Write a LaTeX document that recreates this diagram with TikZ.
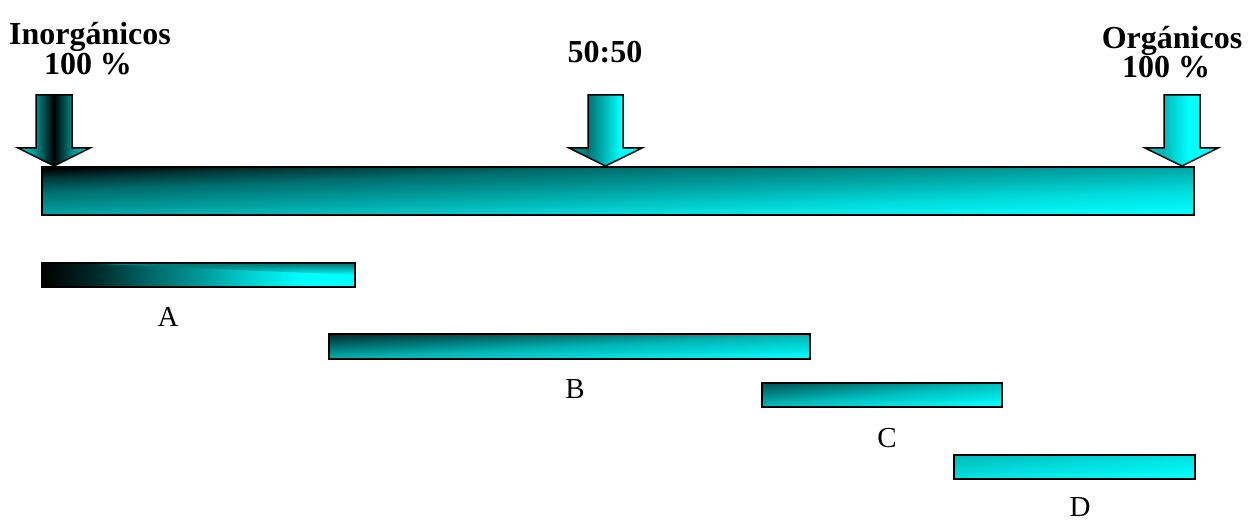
\documentclass[tikz,border=0pt]{standalone}
\usepackage{fontspec}
\usetikzlibrary{fadings}
\setmainfont{Liberation Serif}
\definecolor{cy}{RGB}{0,255,255}
\definecolor{mA1}{RGB}{0,40,40}
\definecolor{mA2}{RGB}{0,100,100}
\definecolor{mA3}{RGB}{0,150,150}
\definecolor{mA4}{RGB}{0,210,210}
\definecolor{bandA}{RGB}{0,125,125}
\definecolor{mM1}{RGB}{0,55,55}
\definecolor{mM2}{RGB}{0,110,110}
\definecolor{mM3}{RGB}{0,165,165}
\definecolor{mM4}{RGB}{0,220,220}
\definecolor{bS}{RGB}{0,50,50}
\definecolor{bM}{RGB}{0,180,180}
\definecolor{cS}{RGB}{0,90,90}
\definecolor{cM}{RGB}{0,190,190}
\definecolor{dS}{RGB}{0,190,190}
\definecolor{dM}{RGB}{0,225,225}
\definecolor{a1e}{RGB}{0,225,225}
\definecolor{a1m}{RGB}{0,140,140}
\definecolor{a2e}{RGB}{0,150,150}
\definecolor{a2m}{RGB}{0,115,115}
\definecolor{a2n}{RGB}{0,200,200}
\definecolor{a3e}{RGB}{0,200,200}
\definecolor{a3m}{RGB}{0,185,185}
% diagonal bar shadings: 25bp = top-left corner, 50bp = other corners' line, 75bp = bottom-right corner
\pgfdeclarehorizontalshading{shMain}{100bp}{color(0bp)=(black); color(25bp)=(black); color(30bp)=(mM1); color(37.5bp)=(mM2); color(50bp)=(mM3); color(62.5bp)=(mM4); color(75bp)=(cy); color(100bp)=(cy)}
\pgfdeclarehorizontalshading{shA}{100bp}{color(0bp)=(black); color(25bp)=(black); color(33.3bp)=(mA1); color(41.7bp)=(mA2); color(50bp)=(mA3); color(58.3bp)=(mA4); color(66.7bp)=(cy); color(100bp)=(cy)}
\pgfdeclarehorizontalshading{shB}{100bp}{color(0bp)=(bS); color(25bp)=(bS); color(50bp)=(bM); color(75bp)=(cy); color(100bp)=(cy)}
\pgfdeclarehorizontalshading{shC}{100bp}{color(0bp)=(cS); color(25bp)=(cS); color(50bp)=(cM); color(75bp)=(cy); color(100bp)=(cy)}
\pgfdeclarehorizontalshading{shD}{100bp}{color(0bp)=(dS); color(25bp)=(dS); color(50bp)=(dM); color(75bp)=(cy); color(100bp)=(cy)}
\pgfdeclarehorizontalshading{arrOne}{100bp}{color(0bp)=(cy); color(25bp)=(a1e); color(37.5bp)=(a1m); color(50bp)=(black); color(62.5bp)=(a1m); color(75bp)=(a1e); color(100bp)=(cy)}
\pgfdeclarehorizontalshading{arrTwo}{100bp}{color(0bp)=(a2e); color(25bp)=(a2e); color(38bp)=(a2m); color(52bp)=(a2n); color(60bp)=(cy); color(100bp)=(cy)}
\pgfdeclarehorizontalshading{arrThree}{100bp}{color(0bp)=(a3e); color(25bp)=(a3e); color(38bp)=(a3m); color(55bp)=(cy); color(100bp)=(cy)}
\tikzfading[name=topfade, top color=transparent!0, bottom color=transparent!100]
\begin{document}
\begin{tikzpicture}[x=1pt,y=-1pt,
  barbox/.style={rectangle, draw=black, line width=1.5pt, shade, inner sep=0pt},
  arrowbox/.style={draw=black, line width=1.5pt, line join=miter, shade},
  titletext/.style={font=\fontsize{32}{36}\selectfont\bfseries, anchor=base, inner sep=0pt},
  barlabel/.style={font=\fontsize{29}{34}\selectfont, anchor=base, inner sep=0pt}]
\useasboundingbox (0,0) rectangle (1254,521);
% main bar
\node[barbox, shading=shMain, shading angle=-87.61, minimum width=1152pt, minimum height=48pt] (main) at (618,191) {};
% arrows
\path[arrowbox, shading=arrOne] (36,95) -- (72,95) -- (72,148) -- (90,148) -- (54,166) -- (18,148) -- (36,148) -- cycle;
\path[arrowbox, shading=arrTwo] (588,95) -- (623,95) -- (623,148) -- (642,148) -- (605.5,166) -- (569,148) -- (588,148) -- cycle;
\path[arrowbox, shading=arrThree] (1164,95) -- (1200,95) -- (1200,148) -- (1218,148) -- (1182,166) -- (1145,148) -- (1164,148) -- cycle;
% titles
\node[titletext] (inorg) at (90,45) {Inorgánicos};
\node[titletext] (inorgp) at (88,75) {100 \%};
\node[titletext] (mid) at (605,63) {50:50};
\node[titletext] (org) at (1172,49) {Orgánicos};
\node[titletext] (orgp) at (1166,78) {100 \%};
% range bars
\node[barbox, shading=shA, minimum width=313pt, minimum height=24pt] (barA) at (198.5,275) {};
\fill[bandA, path fading=topfade] (95,263.8) -- (354.2,263.8) -- (354.2,275) -- cycle;
\node[barbox, shading=shB, shading angle=-87.03, minimum width=481pt, minimum height=25pt] (barB) at (569.5,346.5) {};
\node[barbox, shading=shC, shading angle=-84.29, minimum width=240pt, minimum height=24pt] (barC) at (882,395) {};
\node[barbox, shading=shD, shading angle=-84.31, minimum width=241pt, minimum height=24pt] (barD) at (1074.5,467) {};
% labels
\node[barlabel] (labA) at (168,327) {A};
\node[barlabel] (labB) at (575,399) {B};
\node[barlabel] (labC) at (887,447) {C};
\node[barlabel] (labD) at (1080,516) {D};
\end{tikzpicture}
\end{document}
